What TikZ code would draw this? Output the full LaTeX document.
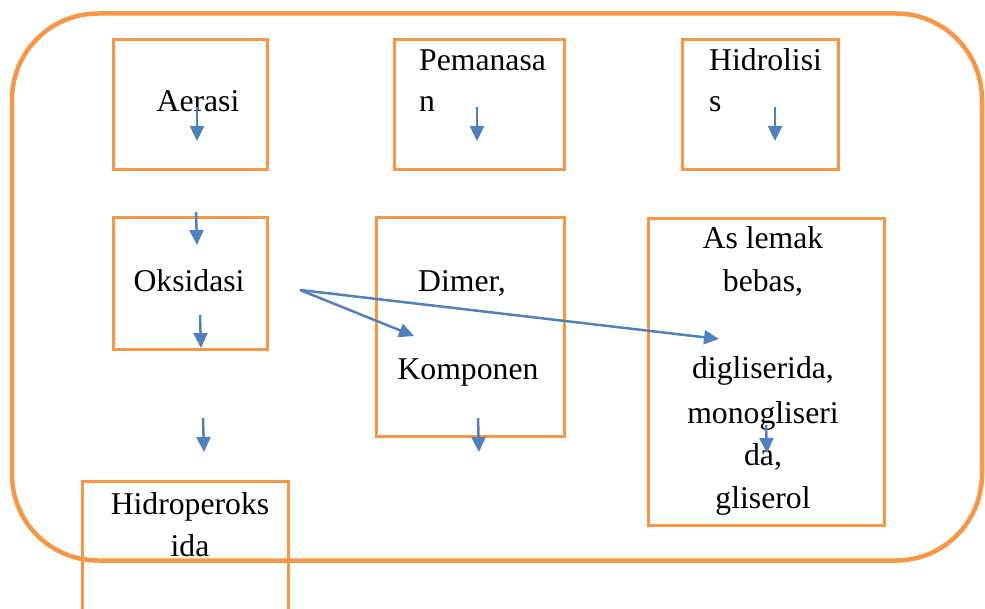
\documentclass[tikz,border=0pt]{standalone}
\usepackage{fontspec}
\setmainfont{Liberation Serif}
\usetikzlibrary{arrows.meta}
\definecolor{boxorange}{HTML}{F79646}
\definecolor{arrblue}{HTML}{4F81BD}
\tikzset{
  box/.style={draw=boxorange, line width=3pt, minimum width=#1, inner sep=0pt},
  frame/.style={draw=boxorange, line width=4.5pt, rounded corners=86pt, inner sep=0pt},
  txt/.style={font=\fontsize{31.7}{43}\selectfont, inner sep=0pt, anchor=base},
  flow/.style={draw=arrblue, line width=2.5pt, -{Triangle[length=15pt,width=14pt]}}
}
\begin{document}
\begin{tikzpicture}[x=1pt,y=-1pt]
\clip (0,0) rectangle (985,609);
\fill[white] (0,0) rectangle (985,609);
% outer frame
\node[frame, minimum width=970pt, minimum height=547pt] (frame) at (497,287) {};
% boxes
\node[box=154pt, minimum height=130pt] (aerasi) at (190,105) {};
\node[box=170pt, minimum height=130pt] (pemanasan) at (479,105) {};
\node[box=156pt, minimum height=130pt] (hidrolisis) at (760,105) {};
\node[box=154pt, minimum height=132pt] (oksidasi) at (190,284) {};
\node[box=188pt, minimum height=218pt] (dimer) at (470,327) {};
\node[box=236pt, minimum height=306pt] (lemak) at (766,372) {};
\node[box=206pt, minimum height=160pt] (hidro) at (185,561) {};
% texts
\node[txt] (tAerasi) at (198,112) {Aerasi};
\node[txt, anchor=base west] (tPem1) at (419,71) {Pemanasa};
\node[txt, anchor=base west] (tPem2) at (419,112) {n};
\node[txt, anchor=base west] (tHid1) at (709,71) {Hidrolisi};
\node[txt, anchor=base west] (tHid2) at (709,112) {s};
\node[txt] (tOks) at (189,292) {Oksidasi};
\node[txt] (tDim) at (462,292) {Dimer,};
\node[txt] (tKom) at (468,380) {Komponen};
\node[txt] (tLem1) at (763,249) {As lemak};
\node[txt] (tLem2) at (763,292) {bebas,};
\node[txt] (tLem3) at (763,378) {digliserida,};
\node[txt] (tLem4) at (763,423) {monogliseri};
\node[txt] (tLem5) at (763,465) {da,};
\node[txt] (tLem6) at (763,508) {gliserol};
\node[txt] (tHp1) at (190,514) {Hidroperoks};
\node[txt] (tHp2) at (190,556) {ida};
% small arrows
\coordinate (a1s) at (197,107); \coordinate (a1e) at (197,141);
\coordinate (a2s) at (477,107); \coordinate (a2e) at (477,141);
\coordinate (a3s) at (775,107); \coordinate (a3e) at (775,141);
\coordinate (a4s) at (196,212); \coordinate (a4e) at (197,245);
\coordinate (a5s) at (200,315); \coordinate (a5e) at (201,348);
\coordinate (a6s) at (203,418); \coordinate (a6e) at (204,452);
\coordinate (a7s) at (478,418); \coordinate (a7e) at (479,452);
\coordinate (a8s) at (766,425); \coordinate (a8e) at (767,453);
\foreach \i in {1,...,8} {\draw[flow] (a\i s) -- (a\i e);}
% long arrows
\coordinate (src) at (300,290);
\coordinate (tipK) at (414,336);
\coordinate (tipL) at (719,339);
\draw[flow] (src) -- (tipK);
\draw[flow] (src) -- (tipL);
\end{tikzpicture}
\end{document}
